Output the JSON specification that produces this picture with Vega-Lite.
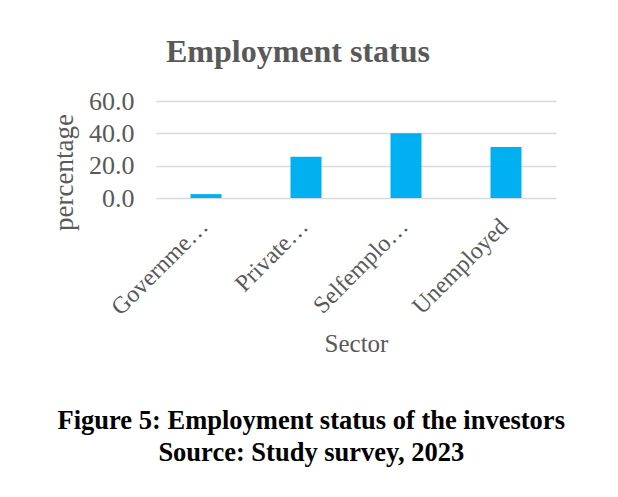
{
  "$schema": "https://vega.github.io/schema/vega-lite/v6.json",
  "background": "white",
  "padding": {"left": 50, "top": 36, "right": 5, "bottom": 5},
  "title": {
    "text": ["Figure 5: Employment status of the investors", "Source: Study survey, 2023"],
    "orient": "bottom",
    "anchor": "middle",
    "font": "Liberation Serif",
    "fontSize": 26.5,
    "fontWeight": "bold",
    "color": "black",
    "lineHeight": 32,
    "offset": 51,
    "dx": 8
  },
  "vconcat": [
    {
      "width": 400,
      "height": 97,
      "title": {
        "text": "Employment status",
        "font": "Liberation Serif",
        "fontSize": 32,
        "fontWeight": "bold",
        "color": "#595959",
        "anchor": "middle",
        "offset": 19,
        "dx": -58
      },
      "data": {
        "values": [
          {"Sector": "Governme…", "percentage": 2.4},
          {"Sector": "Private…", "percentage": 25.5},
          {"Sector": "Selfemplo…", "percentage": 40.1},
          {"Sector": "Unemployed", "percentage": 31.5}
        ]
      },
      "mark": {"type": "bar", "color": "#00B0F0"},
      "encoding": {
        "x": {
          "field": "Sector",
          "type": "nominal",
          "sort": null,
          "scale": {"paddingInner": 0.69, "paddingOuter": 0.345},
          "axis": {
            "title": "Sector",
            "titleFont": "Liberation Serif",
            "titleFontSize": 25,
            "titleFontWeight": "normal",
            "titleColor": "#595959",
            "titlePadding": 12,
            "labelAngle": -45,
            "labelFont": "Liberation Serif",
            "labelFontSize": 24,
            "labelColor": "#595959",
            "labelLimit": 200,
            "labelPadding": 16,
            "labelOffset": -10,
            "ticks": false,
            "domain": false,
            "grid": false
          }
        },
        "y": {
          "field": "percentage",
          "type": "quantitative",
          "scale": {"domain": [0, 60]},
          "axis": {
            "title": "percentage",
            "titleFont": "Liberation Serif",
            "titleFontSize": 27,
            "titleFontWeight": "normal",
            "titleColor": "#595959",
            "titlePadding": 10,
            "titleY": 71,
            "values": [0, 20, 40, 60],
            "format": ".1f",
            "labelFont": "Liberation Serif",
            "labelFontSize": 26,
            "labelColor": "#595959",
            "labelPadding": 22,
            "ticks": false,
            "domain": false,
            "grid": true,
            "gridColor": "#D9D9D9",
            "gridWidth": 1.5
          }
        }
      }
    }
  ],
  "config": {"view": {"stroke": null}}
}
